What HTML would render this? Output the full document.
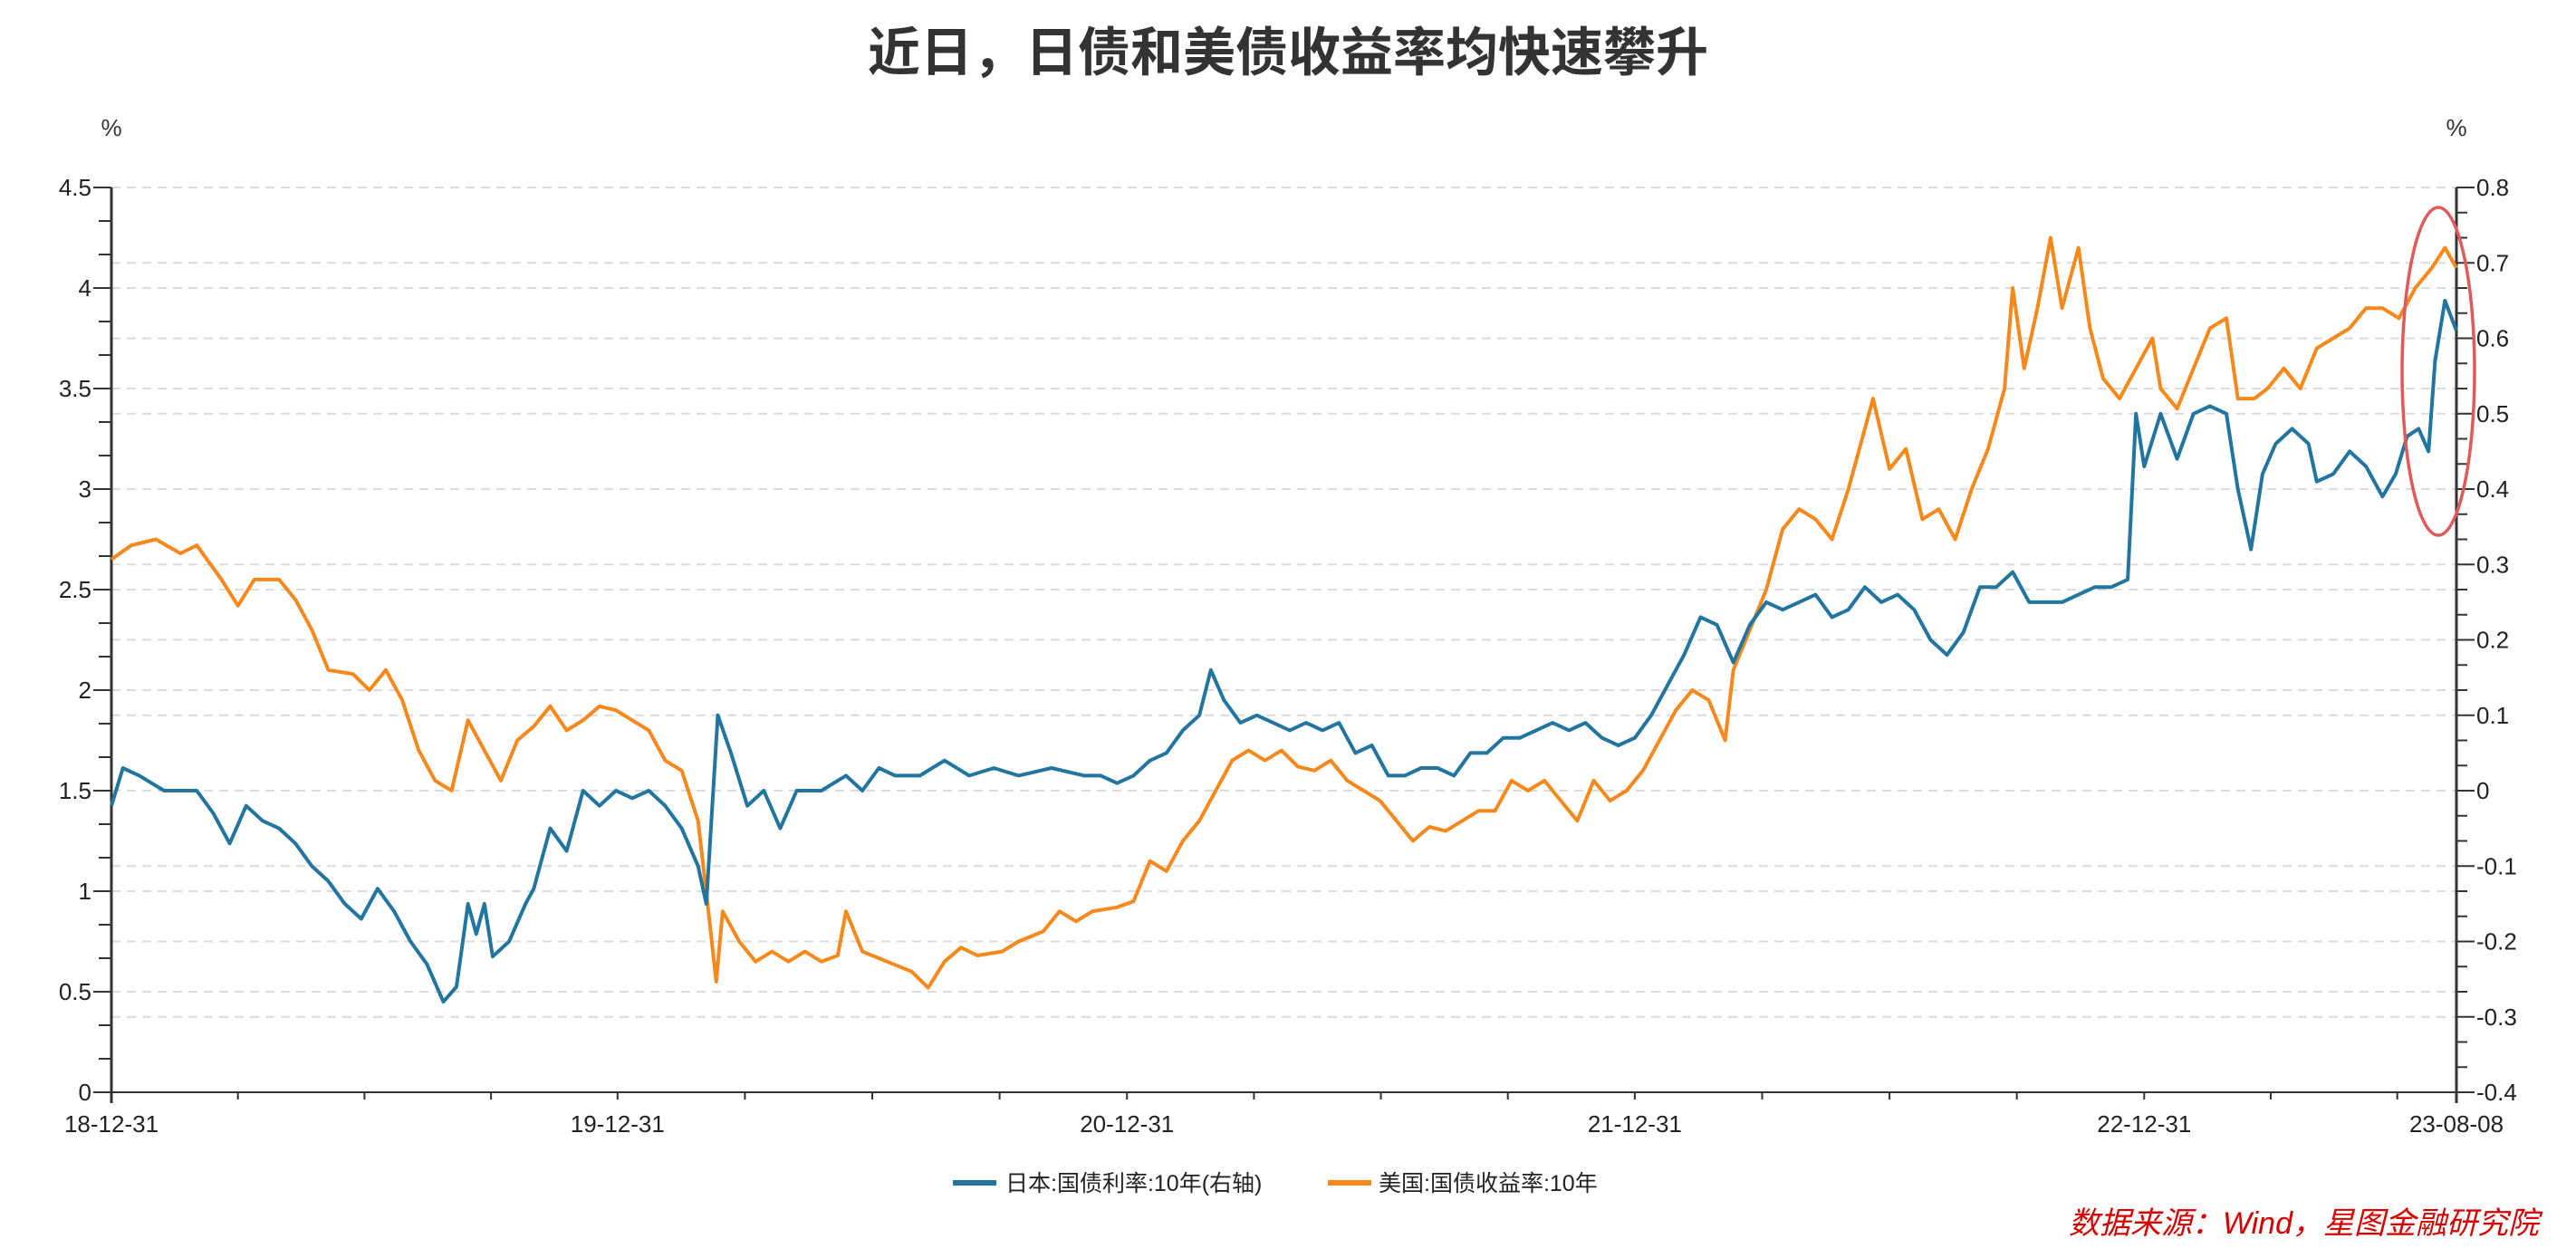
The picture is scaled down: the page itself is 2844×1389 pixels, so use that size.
<!DOCTYPE html>
<html><head><meta charset="utf-8"><style>
html,body{margin:0;padding:0;background:#fff;width:2844px;height:1389px;overflow:hidden}
svg{display:block}
text{font-family:"Liberation Sans","Noto Sans CJK SC",sans-serif}
</style></head><body>
<svg id="chart" width="2844" height="1389" viewBox="0 0 2844 1389" xmlns="http://www.w3.org/2000/svg">
<text x="1422" y="78" text-anchor="middle" font-size="58" font-weight="bold" fill="#333" style='font-family:"Liberation Sans","Noto Sans CJK SC",sans-serif'>近日，日债和美债收益率均快速攀升</text>
<text x="123" y="150" text-anchor="middle" font-size="26" fill="#333">%</text>
<text x="2712" y="150" text-anchor="middle" font-size="26" fill="#333">%</text>
<g id="grid"></g><g id="axes"></g><g id="series"></g>
<ellipse cx="2692" cy="410" rx="40" ry="181" fill="none" stroke="#e05a5a" stroke-width="3.5"/>
<g>
<line x1="1052" y1="1306" x2="1100" y2="1306" stroke="#21759f" stroke-width="6"/>
<text x="1110" y="1315" font-size="25" fill="#222">日本:国债利率:10年(右轴)</text>
<line x1="1466" y1="1306" x2="1514" y2="1306" stroke="#f7891c" stroke-width="6"/>
<text x="1522" y="1315" font-size="25" fill="#222">美国:国债收益率:10年</text>
</g>
<text x="2803" y="1362" text-anchor="end" font-size="34" font-style="italic" fill="#d40000">数据来源：Wind，星图金融研究院</text>
</svg>
<script>
const leftTicks=["0","0.5","1","1.5","2","2.5","3","3.5","4","4.5"];
const leftTickValues=[0,0.5,1,1.5,2,2.5,3,3.5,4,4.5];
const rightTickValues=[-0.4,-0.3,-0.2,-0.1,0,0.1,0.2,0.3,0.4,0.5,0.6,0.7,0.8];
const rightTicks=["-0.4","-0.3","-0.2","-0.1","0","0.1","0.2","0.3","0.4","0.5","0.6","0.7","0.8"];
const dateLabels=["18-12-31","19-12-31","20-12-31","21-12-31","22-12-31","23-08-08"];
const dateIndex=[0,308,618,927,1237,1427];
const totalSessions=1427;
const usDays=[0,12,27,42,52,67,77,87,102,112,122,132,147,157,167,177,187,197,207,217,227,237,247,257,267,277,287,297,307,317,327,337,347,357,364,368,372,382,392,402,412,422,432,442,447,457,472,487,497,507,517,527,542,552,567,577,587,597,612,622,632,642,652,662,672,682,692,702,712,722,732,742,752,762,772,782,792,802,812,822,832,842,852,862,872,882,892,902,912,922,932,942,952,962,972,982,987,997,1007,1017,1027,1037,1047,1057,1067,1072,1082,1092,1102,1112,1122,1132,1142,1152,1157,1164,1172,1180,1187,1197,1204,1212,1222,1232,1242,1247,1257,1267,1277,1287,1294,1304,1312,1322,1332,1342,1352,1362,1372,1382,1392,1402,1412,1420,1427];
const usYield=[2.65,2.72,2.75,2.68,2.72,2.55,2.42,2.55,2.55,2.45,2.3,2.1,2.08,2.0,2.1,1.95,1.7,1.55,1.5,1.85,1.7,1.55,1.75,1.82,1.92,1.8,1.85,1.92,1.9,1.85,1.8,1.65,1.6,1.35,0.85,0.55,0.9,0.75,0.65,0.7,0.65,0.7,0.65,0.68,0.9,0.7,0.65,0.6,0.52,0.65,0.72,0.68,0.7,0.75,0.8,0.9,0.85,0.9,0.92,0.95,1.15,1.1,1.25,1.35,1.5,1.65,1.7,1.65,1.7,1.62,1.6,1.65,1.55,1.5,1.45,1.35,1.25,1.32,1.3,1.35,1.4,1.4,1.55,1.5,1.55,1.45,1.35,1.55,1.45,1.5,1.6,1.75,1.9,2.0,1.95,1.75,2.1,2.3,2.5,2.8,2.9,2.85,2.75,3.0,3.3,3.45,3.1,3.2,2.85,2.9,2.75,3.0,3.2,3.5,4.0,3.6,3.9,4.25,3.9,4.2,3.8,3.55,3.45,3.6,3.75,3.5,3.4,3.6,3.8,3.85,3.45,3.45,3.5,3.6,3.5,3.7,3.75,3.8,3.9,3.9,3.85,4.0,4.1,4.2,4.1];
const jpDays=[0,7,17,32,42,52,62,72,82,92,102,112,122,132,142,152,162,172,182,192,202,210,217,222,227,232,242,252,257,267,277,287,297,307,317,327,337,347,357,362,369,377,387,397,407,417,432,447,457,467,477,492,507,522,537,552,572,592,602,612,622,632,642,652,662,669,677,687,697,707,717,727,737,747,757,767,777,787,797,807,817,827,837,847,857,867,877,887,897,907,917,927,937,947,957,967,977,987,997,1007,1017,1027,1037,1047,1057,1067,1077,1087,1097,1107,1117,1127,1137,1147,1157,1167,1177,1187,1197,1207,1217,1227,1232,1237,1247,1257,1267,1277,1287,1294,1302,1309,1317,1327,1337,1342,1352,1362,1372,1382,1390,1397,1404,1410,1414,1420,1427];
const jpYield=[-0.02,0.03,0.02,0.0,0.0,0.0,-0.03,-0.07,-0.02,-0.04,-0.05,-0.07,-0.1,-0.12,-0.15,-0.17,-0.13,-0.16,-0.2,-0.23,-0.28,-0.26,-0.15,-0.19,-0.15,-0.22,-0.2,-0.15,-0.13,-0.05,-0.08,0.0,-0.02,0.0,-0.01,0.0,-0.02,-0.05,-0.1,-0.15,0.1,0.05,-0.02,0.0,-0.05,0.0,0.0,0.02,0.0,0.03,0.02,0.02,0.04,0.02,0.03,0.02,0.03,0.02,0.02,0.01,0.02,0.04,0.05,0.08,0.1,0.16,0.12,0.09,0.1,0.09,0.08,0.09,0.08,0.09,0.05,0.06,0.02,0.02,0.03,0.03,0.02,0.05,0.05,0.07,0.07,0.08,0.09,0.08,0.09,0.07,0.06,0.07,0.1,0.14,0.18,0.23,0.22,0.17,0.22,0.25,0.24,0.25,0.26,0.23,0.24,0.27,0.25,0.26,0.24,0.2,0.18,0.21,0.27,0.27,0.29,0.25,0.25,0.25,0.26,0.27,0.27,0.28,0.5,0.43,0.5,0.44,0.5,0.51,0.5,0.4,0.32,0.42,0.46,0.48,0.46,0.41,0.42,0.45,0.43,0.39,0.42,0.47,0.48,0.45,0.57,0.65,0.61];

const NS="http://www.w3.org/2000/svg";
const L=123,R=2712,T=207,B=1206;
const xS=d=>L+d/totalSessions*(R-L);
const yL=v=>B-(v-0)/(4.5-0)*(B-T);
const yR=v=>B-(v+0.4)/(0.8+0.4)*(B-T);
function mk(tag,attrs,parent){const e=document.createElementNS(NS,tag);for(const k in attrs)e.setAttribute(k,attrs[k]);parent.appendChild(e);return e;}
const grid=document.getElementById('grid'),axes=document.getElementById('axes'),series=document.getElementById('series');
leftTickValues.forEach((v,i)=>{if(i===0)return;const g=mk('line',{x1:L,x2:R,y1:yL(v),y2:yL(v),stroke:'#dcdcdc','stroke-width':2,'stroke-dasharray':'10 7'},grid);

});
rightTickValues.forEach((v,i)=>{if(i===0)return;const g=mk('line',{x1:L,x2:R,y1:yR(v),y2:yR(v),stroke:'#dcdcdc','stroke-width':2,'stroke-dasharray':'10 7'},grid);

});
const al=mk('line',{x1:L,x2:L,y1:T,y2:B+12,stroke:'#333','stroke-width':3},axes);


const ar=mk('line',{x1:R,x2:R,y1:T,y2:B+12,stroke:'#333','stroke-width':3},axes);


const ax=mk('line',{x1:L,x2:R,y1:B,y2:B,stroke:'#333','stroke-width':2},axes);


for(let i=0;i<leftTickValues.length;i++){
 const y=yL(leftTickValues[i]);
 mk('line',{x1:L-20,x2:L,y1:y,y2:y,stroke:'#333','stroke-width':2},axes);
 const t=mk('text',{x:L-22,y:y+9,'text-anchor':'end','font-size':26,fill:'#222'},axes);t.textContent=leftTicks[i];
 
 
 if(i<leftTickValues.length-1){for(let k=1;k<3;k++){const yy=yL(leftTickValues[i]+k*0.5/3);mk('line',{x1:L-14,x2:L,y1:yy,y2:yy,stroke:'#333','stroke-width':2},axes);}}
}
for(let i=0;i<rightTickValues.length;i++){
 const y=yR(rightTickValues[i]);
 mk('line',{x1:R,x2:R+20,y1:y,y2:y,stroke:'#333','stroke-width':2},axes);
 const t=mk('text',{x:R+22,y:y+9,'text-anchor':'start','font-size':26,fill:'#222'},axes);t.textContent=rightTicks[i];
 
 
 if(i<rightTickValues.length-1){for(let k=1;k<3;k++){const yy=yR(rightTickValues[i]+k*0.1/3);mk('line',{x1:R,x2:R+12,y1:yy,y2:yy,stroke:'#333','stroke-width':2},axes);}}
}
for(let i=0;i<dateLabels.length;i++){
 const x=xS(dateIndex[i]);
 const t=mk('text',{x:x,y:B+44,'text-anchor':'middle','font-size':26,fill:'#222'},axes);t.textContent=dateLabels[i];
 
 
 if(i<dateLabels.length-1){const span=(dateIndex[i+1]-dateIndex[i]);const q=(i<4)?span/4:77;for(let k=(i===0?1:0);k*q<span-5;k++){const xx=xS(dateIndex[i]+k*q);mk('line',{x1:xx,x2:xx,y1:B,y2:B+8,stroke:'#333','stroke-width':2},axes);}}
}
function drawLine(days,vals,ys,color,name){
 const n=Math.min(days.length,vals.length);let d='';
 for(let i=0;i<n;i++){d+=(i?'L':'M')+xS(days[i]).toFixed(1)+','+ys(vals[i]).toFixed(1);}
 const p=mk('path',{d:d,fill:'none',stroke:color,'stroke-width':4,'stroke-linejoin':'round'},series);
 
 
}
drawLine(usDays,usYield,yL,'#f7891c','us-10y-yield-line');
drawLine(jpDays,jpYield,yR,'#21759f','japan-10y-yield-line');
</script>
</body></html>
